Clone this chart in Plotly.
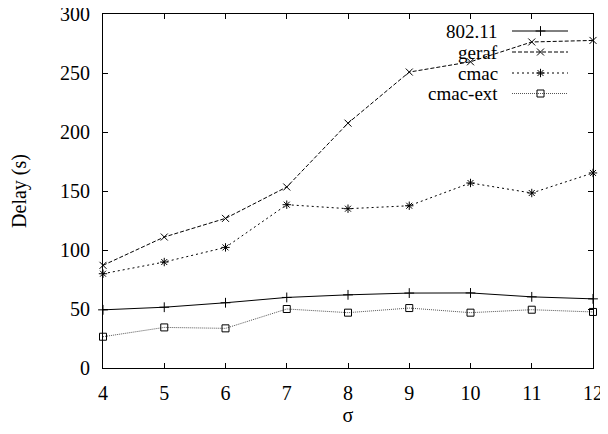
import plotly.graph_objects as go

sigma = [4, 5, 6, 7, 8, 9, 10, 11, 12]
delay_80211 = [49.3, 51.5, 55.3, 59.8, 62.0, 63.5, 63.6, 60.3, 58.6]
delay_geraf = [87.0, 111.0, 126.8, 153.4, 207.5, 250.8, 259.5, 276.3, 277.6]
delay_cmac = [79.9, 89.8, 102.2, 138.4, 135.0, 137.5, 156.8, 148.3, 165.3]
delay_cmacext = [26.5, 34.4, 33.6, 50.0, 46.9, 50.8, 46.9, 49.4, 47.5]

series_names = ["802.11", "geraf", "cmac", "cmac-ext"]
series_vals = [delay_80211, delay_geraf, delay_cmac, delay_cmacext]
styles = [
    dict(dash="solid", color="black", symbol="cross-thin-open", msize=7),
    dict(dash="4px,2px", color="black", symbol="x-thin-open", msize=7),
    dict(dash="2px,3px", color="black", symbol="asterisk-open", msize=7),
    dict(dash="1px,1px", color="#555555", symbol="square-open", msize=7),
]

x_ticks = [4, 5, 6, 7, 8, 9, 10, 11, 12]
y_ticks = [0, 50, 100, 150, 200, 250, 300]

FONT = "Liberation Serif, Times New Roman, serif"
OFF = 8  # default page body margin
W, H = 608 - 2 * OFF, 434 - 2 * OFF
L, T = 103 - OFF, 14 - OFF
R = W - (593 - OFF)
B = H - (368 - OFF)

fig = go.Figure()
for name, vals, st in zip(series_names, series_vals, styles):
    fig.add_trace(go.Scatter(
        x=sigma, y=vals, mode="lines+markers", name=name,
        line=dict(color=st["color"], width=1, dash=st["dash"]),
        marker=dict(symbol=st["symbol"], size=st["msize"], color="black",
                    line=dict(color="black", width=1)),
        showlegend=False, cliponaxis=False,
    ))

# gnuplot-style key (text left, sample right); overlay axes measured in page pixels
row_y = [31, 52, 73, 93.5]
for i, (name, st) in enumerate(zip(series_names, styles)):
    fig.add_trace(go.Scatter(
        x=[512, 568], y=[row_y[i], row_y[i]], mode="lines",
        line=dict(color=st["color"], width=1, dash=st["dash"]),
        xaxis="x2", yaxis="y2", showlegend=False, hoverinfo="skip",
    ))
    fig.add_trace(go.Scatter(
        x=[540.5], y=[row_y[i]], mode="markers",
        marker=dict(symbol=st["symbol"], size=st["msize"], color="black",
                    line=dict(color="black", width=1)),
        xaxis="x2", yaxis="y2", showlegend=False, hoverinfo="skip",
    ))
    fig.add_annotation(
        x=499, y=row_y[i], xref="x2", yref="y2", text=name, showarrow=False,
        xanchor="right", yanchor="middle", borderpad=0,
        font=dict(family=FONT, size=19, color="black"),
    )

axis_common = dict(
    showgrid=False, zeroline=False, showline=True, linecolor="black", linewidth=1,
    mirror="ticks", ticks="inside", ticklen=5, tickwidth=1, tickcolor="black",
    tickfont=dict(family=FONT, size=20, color="black"), ticklabeloverflow="allow",
    automargin=False,
)

fig.update_layout(
    width=W, height=H,
    margin=dict(l=L, r=R, t=T, b=B),
    paper_bgcolor="white", plot_bgcolor="white",
    xaxis=dict(range=[4, 12], tickvals=x_ticks, ticktext=[str(v) for v in x_ticks],
               ticklabelstandoff=7,
               title=dict(text="σ", font=dict(family=FONT, size=20, color="black"), standoff=4),
               **axis_common),
    yaxis=dict(range=[0, 300], tickvals=y_ticks, ticktext=[str(v) for v in y_ticks],
               ticklabelstandoff=8,
               title=dict(text="Delay (s)", font=dict(family=FONT, size=20, color="black"), standoff=28),
               **axis_common),
    xaxis2=dict(overlaying="x", range=[103, 593], visible=False, fixedrange=True, automargin=False),
    yaxis2=dict(overlaying="y", range=[368, 14], visible=False, fixedrange=True, automargin=False),
    showlegend=False,
)

fig.write_html(
    "out.html",
    config={"displayModeBar": False},
    post_script="document.querySelectorAll('svg.main-svg').forEach(function(s){s.style.overflow='visible';});",
)
